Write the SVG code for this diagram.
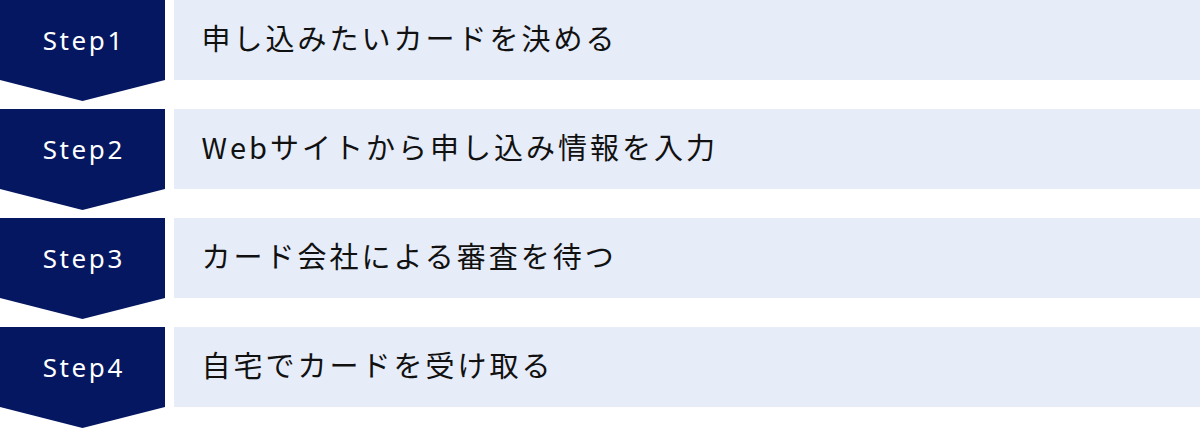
<svg xmlns="http://www.w3.org/2000/svg" width="1200" height="429" viewBox="0 0 1200 429">
<style>
.badge{fill:#041760}
.bar{fill:#E6ECF8}
.st{font-family:"Noto Sans","Liberation Sans",sans-serif;font-size:26px;letter-spacing:2.6px;fill:#ffffff;text-anchor:middle}
.tx{font-family:"Noto Sans CJK JP","Noto Sans",sans-serif;font-size:29px;letter-spacing:3px;fill:#111111}
</style>
<rect width="1200" height="429" fill="#ffffff"/>
<g id="step1">
<path class="badge" d="M0 0H165V80L82.5 101L0 80Z"/>
<rect class="bar" x="174" y="0" width="1026" height="80"/>
<text class="st" x="83.8" y="50">Step1</text>
<text class="tx" x="201.5" y="49.5">申し込みたいカードを決める</text>
</g>
<g id="step2">
<path class="badge" d="M0 109H165V189L82.5 210L0 189Z"/>
<rect class="bar" x="174" y="109" width="1026" height="80"/>
<text class="st" x="83.8" y="159">Step2</text>
<text class="tx" x="201.5" y="158.5">Webサイトから申し込み情報を入力</text>
</g>
<g id="step3">
<path class="badge" d="M0 218H165V298L82.5 319L0 298Z"/>
<rect class="bar" x="174" y="218" width="1026" height="80"/>
<text class="st" x="83.8" y="268">Step3</text>
<text class="tx" x="201.5" y="267.5">カード会社による審査を待つ</text>
</g>
<g id="step4">
<path class="badge" d="M0 327H165V407L82.5 428L0 407Z"/>
<rect class="bar" x="174" y="327" width="1026" height="80"/>
<text class="st" x="83.8" y="377">Step4</text>
<text class="tx" x="201.5" y="376.5">自宅でカードを受け取る</text>
</g>
<g id="connectors"></g>
</svg>
